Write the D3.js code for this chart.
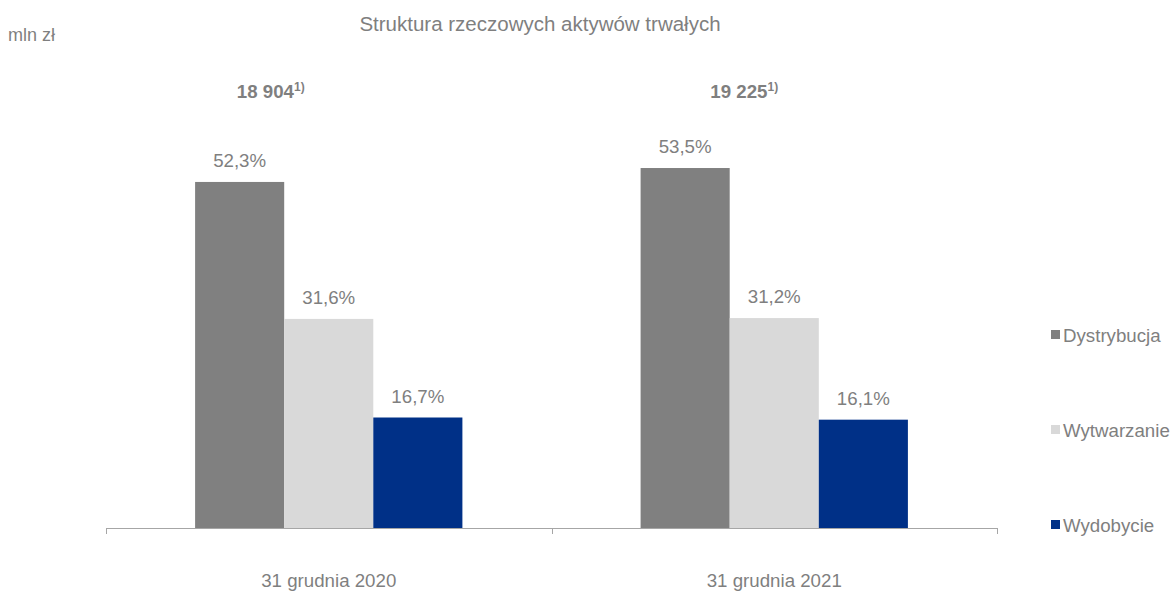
<!DOCTYPE html>
<html>
<head>
<meta charset="utf-8">
<script src="https://cdn.jsdelivr.net/npm/d3@7"></script>
<style>
  body { margin: 0; background: #fff; }
  svg { display: block; font-family: "Liberation Sans", Arial, sans-serif; }
</style>
</head>
<body>
<script>
var categories = ['31 grudnia 2020', '31 grudnia 2021'];
var series = ['Dystrybucja', 'Wytwarzanie', 'Wydobycie'];
var totals = ['18 904', '19 225'];
// values in mln zł (bar heights), labels in percent
var dystrybucja = [9887, 10285];
var wytwarzanie = [5974, 5998];
var wydobycie = [3157, 3095];
var dystrybucjaPct = ['52,3%', '53,5%'];
var wytwarzaniePct = ['31,6%', '31,2%'];
var wydobyciePct = ['16,7%', '16,1%'];

var colors = { 'Dystrybucja': '#808080', 'Wytwarzanie': '#d9d9d9', 'Wydobycie': '#003087' };
var textColor = '#7f7f7f';
var width = 1174;
var height = 597;
var baseline = 528;

var seriesValues = { 'Dystrybucja': dystrybucja, 'Wytwarzanie': wytwarzanie, 'Wydobycie': wydobycie };
var seriesLabels = { 'Dystrybucja': dystrybucjaPct, 'Wytwarzanie': wytwarzaniePct, 'Wydobycie': wydobyciePct };

var svg = d3.select('body')
  .append('svg')
  .attr('width', width)
  .attr('height', height);

var x = d3.scaleBand()
  .domain(categories)
  .range([106, 997]);

var xInner = d3.scaleBand()
  .domain(series)
  .range([0, x.bandwidth()])
  .paddingOuter(1);

var y = d3.scaleLinear()
  .domain([0, 12000])
  .range([baseline, 108]);

// title and unit
svg.append('text')
  .attr('x', 540)
  .attr('y', 31)
  .attr('text-anchor', 'middle')
  .style('font-size', '20.5px')
  .style('fill', textColor)
  .text('Struktura rzeczowych aktywów trwałych');

svg.append('text')
  .attr('x', 8)
  .attr('y', 41)
  .style('font-size', '18px')
  .style('fill', textColor)
  .text('mln zł');

// bars
var rows = function(d, i) {
  return series.map(function(s) { return {s: s, v: seriesValues[s][i], l: seriesLabels[s][i]}; });
};

var groups = svg.selectAll('g.group')
  .data(categories)
  .enter()
  .append('g')
  .attr('class', 'group')
  .attr('transform', function(d) { return 'translate(' + x(d) + ',0)'; });

groups.selectAll('rect')
  .data(rows)
  .enter()
  .append('rect')
  .attr('x', function(d) { return xInner(d.s); })
  .attr('y', function(d) { return y(d.v); })
  .attr('width', xInner.bandwidth())
  .attr('height', function(d) { return baseline - y(d.v); })
  .style('fill', function(d) { return colors[d.s]; });

groups.selectAll('text.pct')
  .data(rows)
  .enter()
  .append('text')
  .attr('class', 'pct')
  .attr('x', function(d) { return xInner(d.s) + xInner.bandwidth() / 2; })
  .attr('y', function(d) { return y(d.v) - 15; })
  .attr('text-anchor', 'middle')
  .style('font-size', '18.7px')
  .style('fill', textColor)
  .text(function(d) { return d.l; });

// totals above groups
var totalOffsets = [-58, -30];
var totalText = svg.selectAll('text.total')
  .data(totals)
  .enter()
  .append('text')
  .attr('class', 'total')
  .attr('x', function(d, i) { return x(categories[i]) + x.bandwidth() / 2 + totalOffsets[i]; })
  .attr('y', 98)
  .attr('text-anchor', 'middle')
  .style('font-size', '18.7px')
  .style('font-weight', 'bold')
  .style('fill', textColor);
totalText.append('tspan').text(function(d) { return d; });
totalText.append('tspan')
  .attr('dy', -7)
  .style('font-size', '12px')
  .text('1)');

// axis
svg.append('line')
  .attr('x1', x.range()[0])
  .attr('x2', x.range()[1])
  .attr('y1', baseline + 0.5)
  .attr('y2', baseline + 0.5)
  .style('stroke', '#a6a6a6');

var tickXs = categories.map(function(c) { return x(c); }).concat([x.range()[1]]);
svg.selectAll('line.tick')
  .data(tickXs)
  .enter()
  .append('line')
  .attr('class', 'tick')
  .attr('x1', function(d) { return Math.round(d) + 0.5; })
  .attr('x2', function(d) { return Math.round(d) + 0.5; })
  .attr('y1', baseline)
  .attr('y2', baseline + 6)
  .style('stroke', '#a6a6a6');

svg.selectAll('text.cat')
  .data(categories)
  .enter()
  .append('text')
  .attr('class', 'cat')
  .attr('x', function(d) { return x(d) + x.bandwidth() / 2; })
  .attr('y', 587)
  .attr('text-anchor', 'middle')
  .style('font-size', '18.7px')
  .style('fill', textColor)
  .text(function(d) { return d; });

// legend
var legend = svg.selectAll('g.legend')
  .data(series)
  .enter()
  .append('g')
  .attr('class', 'legend')
  .attr('transform', function(d, i) { return 'translate(1051,' + (342 + i * 95) + ')'; });

legend.append('rect')
  .attr('x', 0)
  .attr('y', -12)
  .attr('width', 9)
  .attr('height', 9)
  .style('fill', function(d) { return colors[d]; });

legend.append('text')
  .attr('x', 12)
  .attr('y', 0)
  .style('font-size', '18.7px')
  .style('fill', textColor)
  .text(function(d) { return d; });
</script>
</body>
</html>
